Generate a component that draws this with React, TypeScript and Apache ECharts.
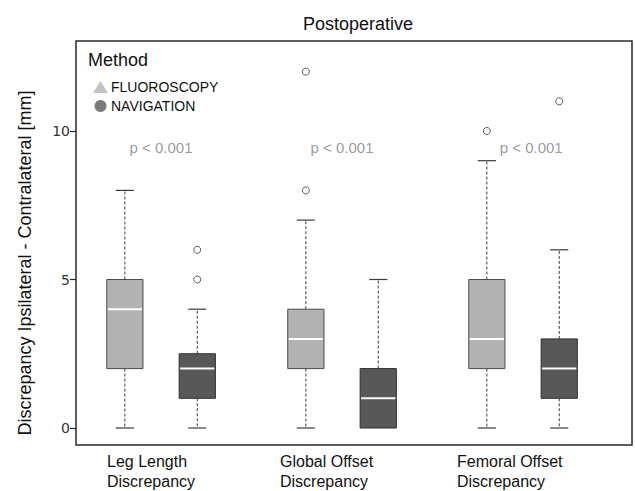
import React, { useEffect, useRef } from "react";
import * as echarts from "echarts";

// ---- data ----
const categories = ["Leg Length\nDiscrepancy", "Global Offset\nDiscrepancy", "Femoral Offset\nDiscrepancy"];
const seriesNames = ["FLUOROSCOPY", "NAVIGATION"];
// [min, Q1, median, Q3, max]
const fluoroscopyStats = [
  [0, 2, 4, 5, 8],
  [0, 2, 3, 4, 7],
  [0, 2, 3, 5, 9],
];
const navigationStats = [
  [0, 1, 2, 2.5, 4],
  [0, 0, 1, 2, 5],
  [0, 1, 2, 3, 6],
];
// [categoryIndex, value]
const fluoroscopyOutliers = [
  [1, 8],
  [1, 12],
  [2, 10],
];
const navigationOutliers = [
  [0, 5],
  [0, 6],
  [2, 11],
];
const pValues = ["p < 0.001", "p < 0.001", "p < 0.001"];
const yTicks = [0, 5, 10];

// ---- layout / style ----
const GROUP_OFFSET = 0.2;
const BOX_WIDTH = 0.2;
const P_X = [1, 2, 3.045];
const P_Y = 9.43;
const X_LABEL_LEFT = [107, 280, 457];
const FILL = ["#b3b3b3", "#585858"];
const BORDER = ["#4a4a4a", "#2e2e2e"];
const LEGEND_COLOR = ["#c4c4c4", "#7a7a7a"];
const FONT = "'Liberation Sans', Arial, sans-serif";

function boxData(stats: number[][], offset: number) {
  return stats.map((s, i) => [i + 1 + offset, ...s]);
}

function makeRenderItem(idx: number) {
  return (params: any, api: any) => {
    const x = api.value(0);
    const mn = api.value(1), q1 = api.value(2), md = api.value(3), q3 = api.value(4), mx = api.value(5);
    const half = api.size([BOX_WIDTH, 0])[0] / 2;
    const capHalf = half / 2;
    const [cx, yMin] = api.coord([x, mn]);
    const yQ1 = api.coord([x, q1])[1];
    const yMd = api.coord([x, md])[1];
    const yQ3 = api.coord([x, q3])[1];
    const yMax = api.coord([x, mx])[1];
    const children: any[] = [];
    const dashStyle = { stroke: "#3a3a3a", lineWidth: 1, lineDash: [3, 2] };
    const capStyle = { stroke: "#3a3a3a", lineWidth: 1.2 };
    if (mx > q3) {
      children.push({ type: "line", shape: { x1: cx, y1: yQ3, x2: cx, y2: yMax }, style: dashStyle });
      children.push({ type: "line", shape: { x1: cx - capHalf, y1: yMax, x2: cx + capHalf, y2: yMax }, style: capStyle });
    }
    if (mn < q1) {
      children.push({ type: "line", shape: { x1: cx, y1: yQ1, x2: cx, y2: yMin }, style: dashStyle });
      children.push({ type: "line", shape: { x1: cx - capHalf, y1: yMin, x2: cx + capHalf, y2: yMin }, style: capStyle });
    }
    children.push({
      type: "rect",
      shape: { x: cx - half, y: yQ3, width: half * 2, height: yQ1 - yQ3 },
      style: { fill: FILL[idx], stroke: BORDER[idx], lineWidth: 1 },
    });
    children.push({
      type: "line",
      shape: { x1: cx - half + 1, y1: yMd, x2: cx + half - 1, y2: yMd },
      style: { stroke: "#ffffff", lineWidth: 2 },
    });
    return { type: "group", children };
  };
}

export default function App() {
  const ref = useRef<HTMLDivElement>(null);
  useEffect(() => {
    if (!ref.current) return;
    const chart = echarts.init(ref.current, null, { renderer: "svg" });
    const outlierSeries = (pts: number[][], offset: number, name: string) => ({
      type: "scatter",
      name,
      symbol: "circle",
      symbolSize: 7,
      itemStyle: { color: "#ffffff", borderColor: "#333333", borderWidth: 1 },
      data: pts.map((p) => [p[0] + 1 + offset, p[1]]),
      z: 5,
    });
    chart.setOption({
      animation: false,
      backgroundColor: "#ffffff",
      textStyle: { fontFamily: FONT },
      title: {
        text: "Postoperative",
        left: 353,
        top: 10,
        textAlign: "center",
        textStyle: { fontSize: 18, fontWeight: "normal", color: "#111", fontFamily: FONT },
      },
      grid: {
        left: 76,
        right: 3,
        top: 41,
        bottom: 46,
        show: true,
        borderColor: "#2a2a2a",
        borderWidth: 1.5,
        backgroundColor: "transparent",
      },
      legend: {
        orient: "vertical",
        left: 88,
        top: 75,
        itemWidth: 15,
        itemHeight: 12,
        itemGap: 5,
        selectedMode: false,
        textStyle: { fontSize: 14, color: "#111", fontFamily: FONT, padding: [0, 0, 0, -2] },
        data: [
          { name: seriesNames[0], icon: "triangle", itemStyle: { color: LEGEND_COLOR[0], borderWidth: 0 } },
          { name: seriesNames[1], icon: "circle", itemStyle: { color: LEGEND_COLOR[1], borderWidth: 0 } },
        ],
      },
      xAxis: {
        type: "value",
        min: 0.53,
        max: 3.602,
        show: false,
        splitLine: { show: false },
      },
      yAxis: {
        type: "value",
        min: -0.572,
        max: 13.03,
        axisLine: { show: false },
        splitLine: { show: false },
        axisTick: { show: true, length: 6, customValues: yTicks, lineStyle: { color: "#2a2a2a", width: 1.2 } },
        axisLabel: {
          customValues: yTicks,
          margin: 6,
          fontSize: 14,
          color: "#333",
          fontFamily: "'DejaVu Sans', sans-serif",
        },
      },
      graphic: [
        {
          type: "text",
          x: 25,
          y: 263,
          rotation: Math.PI / 2,
          style: {
            text: "Discrepancy Ipsilateral - Contralateral [mm]",
            fontSize: 18,
            fontFamily: FONT,
            fill: "#111",
            align: "center",
            verticalAlign: "middle",
          },
        },
        {
          type: "text",
          x: 88,
          y: 51,
          style: { text: "Method", fontSize: 18, fontFamily: FONT, fill: "#111" },
        },
        ...categories.map((c, i) => ({
          type: "text",
          x: X_LABEL_LEFT[i],
          y: 451,
          style: {
            text: c,
            fontSize: 16,
            lineHeight: 20,
            fontFamily: FONT,
            fill: "#111",
            verticalAlign: "top",
          },
        })),
      ],
      series: [
        {
          type: "custom",
          name: seriesNames[0],
          itemStyle: { color: LEGEND_COLOR[0] },
          renderItem: makeRenderItem(0),
          encode: { x: 0, y: [1, 2, 3, 4, 5] },
          data: boxData(fluoroscopyStats, -GROUP_OFFSET),
          z: 3,
        },
        {
          type: "custom",
          name: seriesNames[1],
          itemStyle: { color: LEGEND_COLOR[1] },
          renderItem: makeRenderItem(1),
          encode: { x: 0, y: [1, 2, 3, 4, 5] },
          data: boxData(navigationStats, GROUP_OFFSET),
          z: 3,
        },
        outlierSeries(fluoroscopyOutliers, -GROUP_OFFSET, "fluoroOutliers"),
        outlierSeries(navigationOutliers, GROUP_OFFSET, "navOutliers"),
        {
          type: "scatter",
          name: "pvalues",
          symbolSize: 0,
          silent: true,
          data: pValues.map((p, i) => ({ value: [P_X[i], P_Y], label: { formatter: p } })),
          label: {
            show: true,
            position: "inside",
            fontSize: 15,
            color: "#7f7f7f",
            fontFamily: FONT,
          },
        },
      ],
    });
    return () => chart.dispose();
  }, []);
  return <div ref={ref} style={{ width: 635, height: 491, position: "absolute", left: 0, top: 0 }} />;
}
